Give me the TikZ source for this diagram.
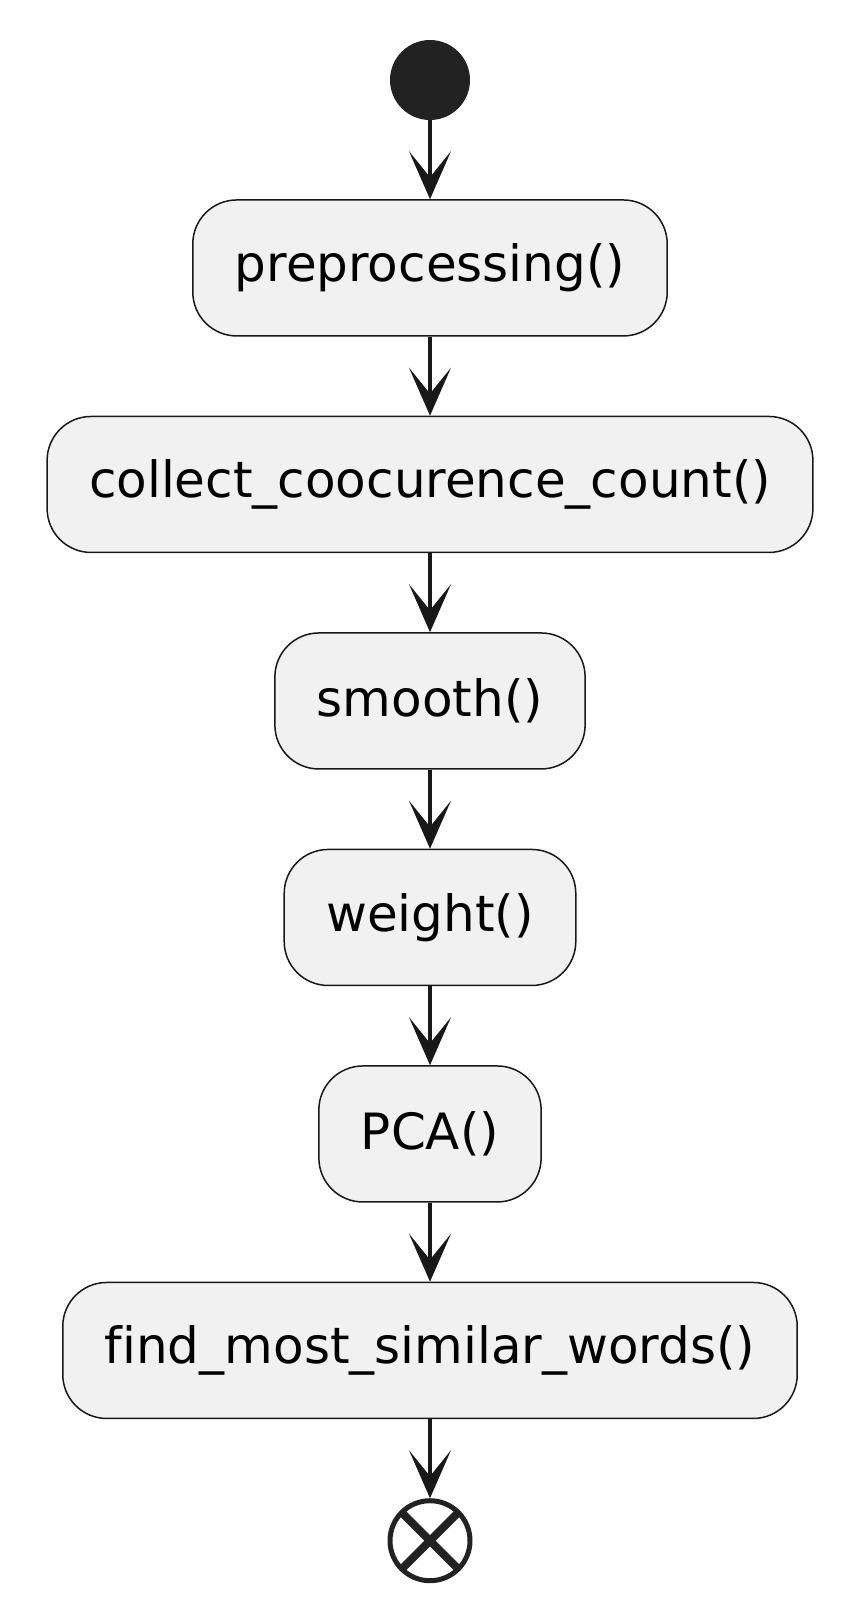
\documentclass[tikz,border=0pt]{standalone}
\usepackage{fontspec}
\setmainfont{DejaVu Sans}[Ligatures=NoCommon]
\usetikzlibrary{positioning,chains,arrows.meta}
\definecolor{boxfill}{HTML}{F1F1F1}
\definecolor{boxline}{HTML}{181818}
\definecolor{dotcol}{HTML}{222222}
\tikzset{
	>={Stealth[length=48pt,width=42pt,inset=26pt]},
	actchain/.style={
		rectangle,
		rounded corners=44pt,
		fill=boxfill,
		draw=boxline, line width=1.5pt,
		inner xsep=42pt,
		minimum height=136pt,
		font=\fontsize{50}{60}\selectfont,
		text centered,
		on chain},
	startdot/.style={
		circle,
		fill=dotcol,
		minimum size=80pt,
		inner sep=0pt,
		on chain},
	enddot/.style={
		circle,
		draw=dotcol, line width=5pt,
		minimum size=80pt,
		inner sep=0pt,
		path picture={
			\draw[dotcol, line width=8pt]
			(path picture bounding box.north west) -- (path picture bounding box.south east)
			(path picture bounding box.north east) -- (path picture bounding box.south west);},
		on chain},
	every join/.style={->, draw=boxline, line width=3.5pt},
}

\begin{document}
\begin{tikzpicture}
[x=1pt, y=1pt,
node distance=79pt,
start chain=going below,]
\useasboundingbox (0,0) rectangle (856,-1615);
\node[startdot] at (430,-80) (start) {};
\node[actchain, join] (prep) {preprocessing()};
\node[actchain, join] (collect) {collect\_coocurence\_count()};
\node[actchain, join] (smooth) {smooth()};
\node[actchain, join] (weight) {weight()};
\node[actchain, join] (pca) {PCA()};
\node[actchain, join] (similar) {find\_most\_similar\_words()};
\node[enddot, join] (stop) {};
\end{tikzpicture}
\end{document}
